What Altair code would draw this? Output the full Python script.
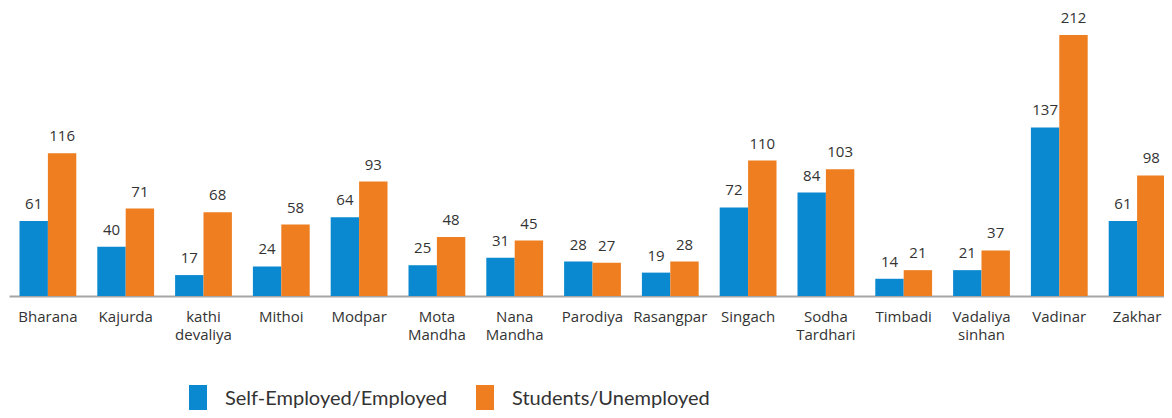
import altair as alt
import pandas as pd

villages = ["Bharana", "Kajurda", "kathi devaliya", "Mithoi", "Modpar", "Mota Mandha",
            "Nana Mandha", "Parodiya", "Rasangpar", "Singach", "Sodha Tardhari",
            "Timbadi", "Vadaliya sinhan", "Vadinar", "Zakhar"]
self_employed = [61, 40, 17, 24, 64, 25, 31, 28, 19, 72, 84, 14, 21, 137, 61]
students = [116, 71, 68, 58, 93, 48, 45, 27, 28, 110, 103, 21, 37, 212, 98]
series = ["Self-Employed/Employed", "Students/Unemployed"]
colors = ["#0A88D0", "#EE7E20"]

rows = []
for v, a, b in zip(villages, self_employed, students):
    rows.append({"village": v, "group": series[0], "count": a})
    rows.append({"village": v, "group": series[1], "count": b})
df = pd.DataFrame(rows)

LABEL_FONT = "Open Sans"

x = alt.X(
    "village:N",
    sort=villages,
    scale=alt.Scale(paddingInner=0.27, paddingOuter=0.135),
    axis=alt.Axis(
        title=None, labelAngle=0, ticks=False,
        domainColor="#A6A6A6", domainWidth=2,
        labelFont=LABEL_FONT, labelFontSize=15, labelColor="#333333",
        labelPadding=13, labelLineHeight=18,
        labelExpr="split(datum.label, ' ')",
    ),
)
y = alt.Y("count:Q", scale=alt.Scale(domain=[0, 234]), axis=None)
xo = alt.XOffset("group:N", sort=series)

base = alt.Chart(df).encode(x=x, y=y, xOffset=xo)

bars = base.mark_bar().encode(
    color=alt.Color(
        "group:N",
        scale=alt.Scale(domain=series, range=colors),
        legend=alt.Legend(
            orient="none", legendX=175.5, legendY=377, direction="horizontal",
            title=None, symbolType="M-0.667,-1H0.667V1H-0.667Z",
            symbolSize=729, symbolStrokeWidth=0, symbolOpacity=1,
            labelFont="Lato", labelFontSize=20,
            labelColor="#333333", labelOffset=13.5, columnPadding=24,
            padding=0, labelLimit=500,
        ),
    )
)

text = base.mark_text(
    dy=-12, baseline="alphabetic", align="center",
    font=LABEL_FONT, fontSize=15, color="#333333",
).encode(text="count:Q")

chart = alt.layer(bars, text).properties(
    width=1167, height=288,
    autosize=alt.AutoSizeParams(type="none"),
    padding={"left": 1, "top": 0, "right": -12, "bottom": 114},
).configure_view(stroke=None)

chart.save("out.html", embed_options={"renderer": "svg", "actions": False})
